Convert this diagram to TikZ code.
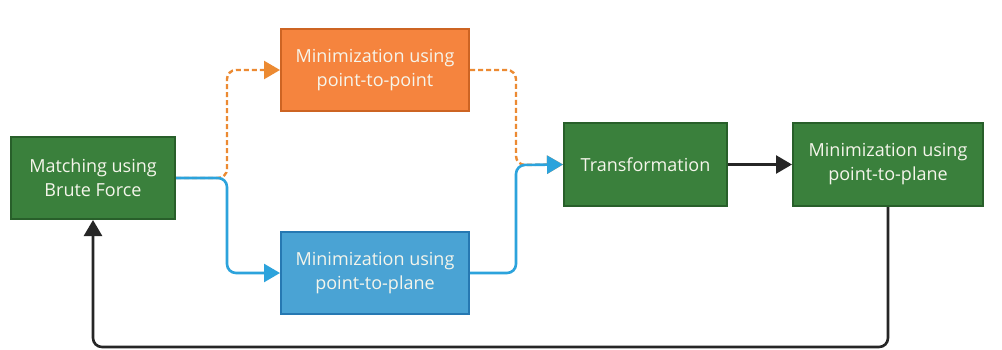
\documentclass[tikz,border=0pt]{standalone}
\usepackage{fontspec}
\setmainfont{Open Sans}
\usetikzlibrary{arrows.meta}
\definecolor{boxgreen}{RGB}{58,128,60}
\definecolor{edgegreen}{RGB}{40,95,42}
\definecolor{boxorange}{RGB}{245,132,62}
\definecolor{edgeorange}{RGB}{205,100,35}
\definecolor{boxblue}{RGB}{74,163,212}
\definecolor{edgeblue}{RGB}{38,120,178}
\definecolor{lineblue}{RGB}{44,163,220}
\definecolor{lineorange}{RGB}{236,138,50}
\definecolor{linedark}{RGB}{38,38,38}
\definecolor{textwhite}{RGB}{245,245,235}
\begin{document}
\begin{tikzpicture}[x=1pt,y=-1pt,
  proc/.style={draw=#1, line width=2pt, inner sep=0pt, align=center,
    text=textwhite, font=\fontsize{18}{24}\selectfont},
  greenbox/.style={proc=edgegreen, fill=boxgreen},
  orangebox/.style={proc=edgeorange, fill=boxorange},
  bluebox/.style={proc=edgeblue, fill=boxblue},
  tip/.style={-{Triangle[length=16pt,width=18pt]}},
  flowblue/.style={tip, draw=lineblue, line width=2.6pt, rounded corners=9pt},
  floworange/.style={tip, draw=lineorange, line width=2.4pt, dash pattern=on 5pt off 3pt, rounded corners=9pt},
  flowdark/.style={tip, draw=linedark, line width=2.6pt, rounded corners=9pt}]
\useasboundingbox (0,0) rectangle (1002,349);
\fill[white] (0,0) rectangle (1002,349);

\node[greenbox, minimum width=164pt, minimum height=82pt] (match) at (93,178) {Matching using\\Brute Force};
\node[orangebox, minimum width=188pt, minimum height=82pt] (p2p) at (375,70) {Minimization using\\point-to-point};
\node[bluebox, minimum width=188pt, minimum height=82pt] (p2pl) at (375,273) {Minimization using\\point-to-plane};
\node[greenbox, minimum width=163pt, minimum height=83pt] (trans) at (645.5,164.5) {Transformation};
\node[greenbox, minimum width=190pt, minimum height=83pt] (final) at (888,164.5) {Minimization using\\point-to-plane};

\coordinate (forkL) at (227,178);
\coordinate (forkR) at (516,165);
\coordinate (loopR) at (888,347);
\coordinate (loopL) at (93,347);

% dashed branch through point-to-point minimisation
\draw[floworange] (match.east |- forkL) -- (forkL) -- (forkL |- p2p.west) -- (p2p.west);
\draw[floworange] (p2p.east) -- (forkR |- p2p.east) -- (forkR) -- (trans.west);
% solid branch through point-to-plane minimisation
\draw[flowblue] (match.east |- forkL) -- (forkL) -- (forkL |- p2pl.west) -- (p2pl.west);
\draw[flowblue] (p2pl.east) -- (forkR |- p2pl.east) -- (forkR) -- (trans.west);
% refinement and feedback loop
\draw[flowdark] (trans.east) -- (final.west);
\draw[flowdark] (final.south) -- (loopR) -- (loopL) -- (match.south);
\end{tikzpicture}
\end{document}
